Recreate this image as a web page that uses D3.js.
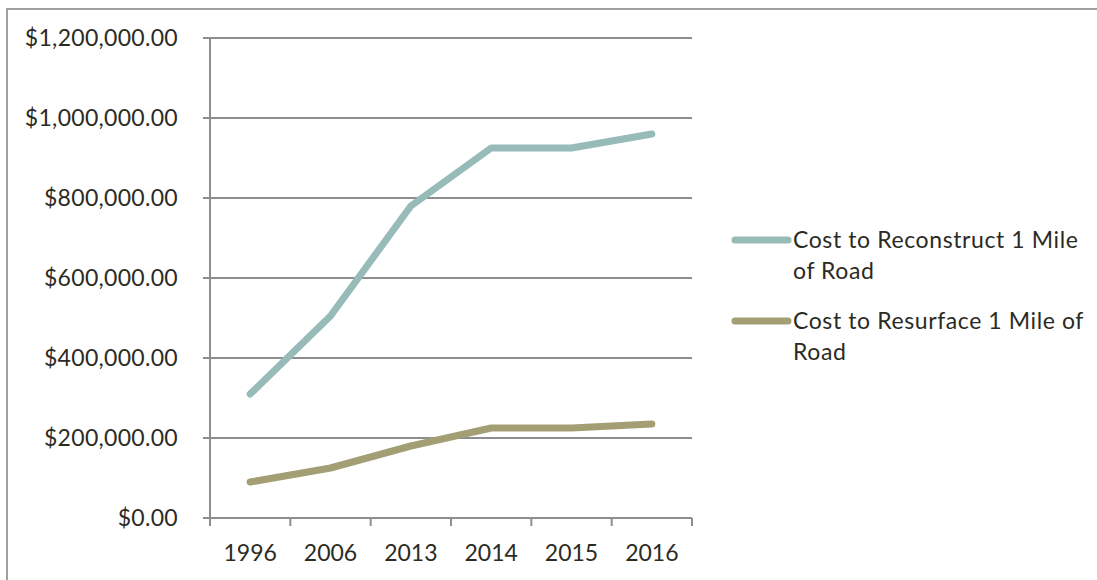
<!DOCTYPE html>
<html><head><meta charset="utf-8">
<script src="https://cdn.jsdelivr.net/npm/d3@7"></script>
<style>body{margin:0;background:#fff;} svg{display:block;}</style>
</head><body>
<svg id="c" width="1097" height="580"></svg>
<script>
const years = ["1996","2006","2013","2014","2015","2016"];
const reconstruct = [310000, 505000, 780000, 925000, 925000, 960000];
const resurface = [90000, 125000, 180000, 225000, 225000, 235000];
const seriesNames = ["Cost to Reconstruct 1 Mile of Road","Cost to Resurface 1 Mile of Road"];
const yTicks = [0,200000,400000,600000,800000,1000000,1200000];

const svg = d3.select("#c");
const font = "Lato, 'Open Sans', sans-serif";
const textColor = "#2b2b24";
const gridColor = "#8e8e8e";
const colors = ["#97bbb8","#a39e74"];

svg.append("rect").attr("x",7).attr("y",9).attr("width",1200).attr("height",700)
  .attr("fill","none").attr("stroke","#a0a0a0").attr("stroke-width",2);

const L=210,R=692,T=38,B=518;
const x = d3.scaleBand().domain(years).range([L,R]);
const y = d3.scaleLinear().domain([0,1200000]).range([B,T]);

svg.append("g").selectAll("line").data(yTicks).join("line")
  .attr("x1",L-7).attr("x2",R).attr("y1",d=>y(d)).attr("y2",d=>y(d))
  .attr("stroke",gridColor).attr("stroke-width",2);

svg.append("line").attr("x1",L).attr("x2",L).attr("y1",T).attr("y2",B+1)
  .attr("stroke",gridColor).attr("stroke-width",2);

const fmt = d => "$" + d3.format(",.2f")(d);
svg.append("g").selectAll("text").data(yTicks).join("text")
  .attr("x",178).attr("y",d=>y(d)).attr("dy","0.35em").attr("text-anchor","end")
  .attr("font-family",font).attr("font-size",23).attr("letter-spacing","0.3px").attr("fill",textColor).text(fmt);

const edges = years.map(d=>x(d)).concat([R]);
svg.append("g").selectAll("line").data(edges).join("line")
  .attr("x1",d=>d).attr("x2",d=>d).attr("y1",B).attr("y2",B+8)
  .attr("stroke",gridColor).attr("stroke-width",2);
svg.append("g").selectAll("text").data(years).join("text")
  .attr("x",d=>x(d)+x.bandwidth()/2).attr("y",553).attr("dy","0.35em").attr("text-anchor","middle")
  .attr("font-family",font).attr("font-size",23).attr("fill",textColor).text(d=>d);

const line = d3.line().x((d,i)=>x(years[i])+x.bandwidth()/2).y(d=>y(d));
[reconstruct,resurface].forEach((s,i)=>{
  svg.append("path").attr("d",line(s)).attr("fill","none").attr("stroke",colors[i])
    .attr("stroke-width",7).attr("stroke-linecap","round").attr("stroke-linejoin","round");
});

const leg = [
  {y:240, lines:["Cost to Reconstruct 1 Mile","of Road"]},
  {y:321, lines:["Cost to Resurface 1 Mile of","Road"]}
];
leg.forEach((l,i)=>{
  svg.append("line").attr("x1",735).attr("x2",788).attr("y1",l.y).attr("y2",l.y)
    .attr("stroke",colors[i]).attr("stroke-width",7).attr("stroke-linecap","round");
  l.lines.forEach((t,j)=>{
    svg.append("text").attr("x",793).attr("y",l.y+j*31).attr("dy","0.35em")
      .attr("font-family",font).attr("font-size",23).attr("letter-spacing","0.6px").attr("fill",textColor).text(t);
  });
});
</script>
</body></html>
